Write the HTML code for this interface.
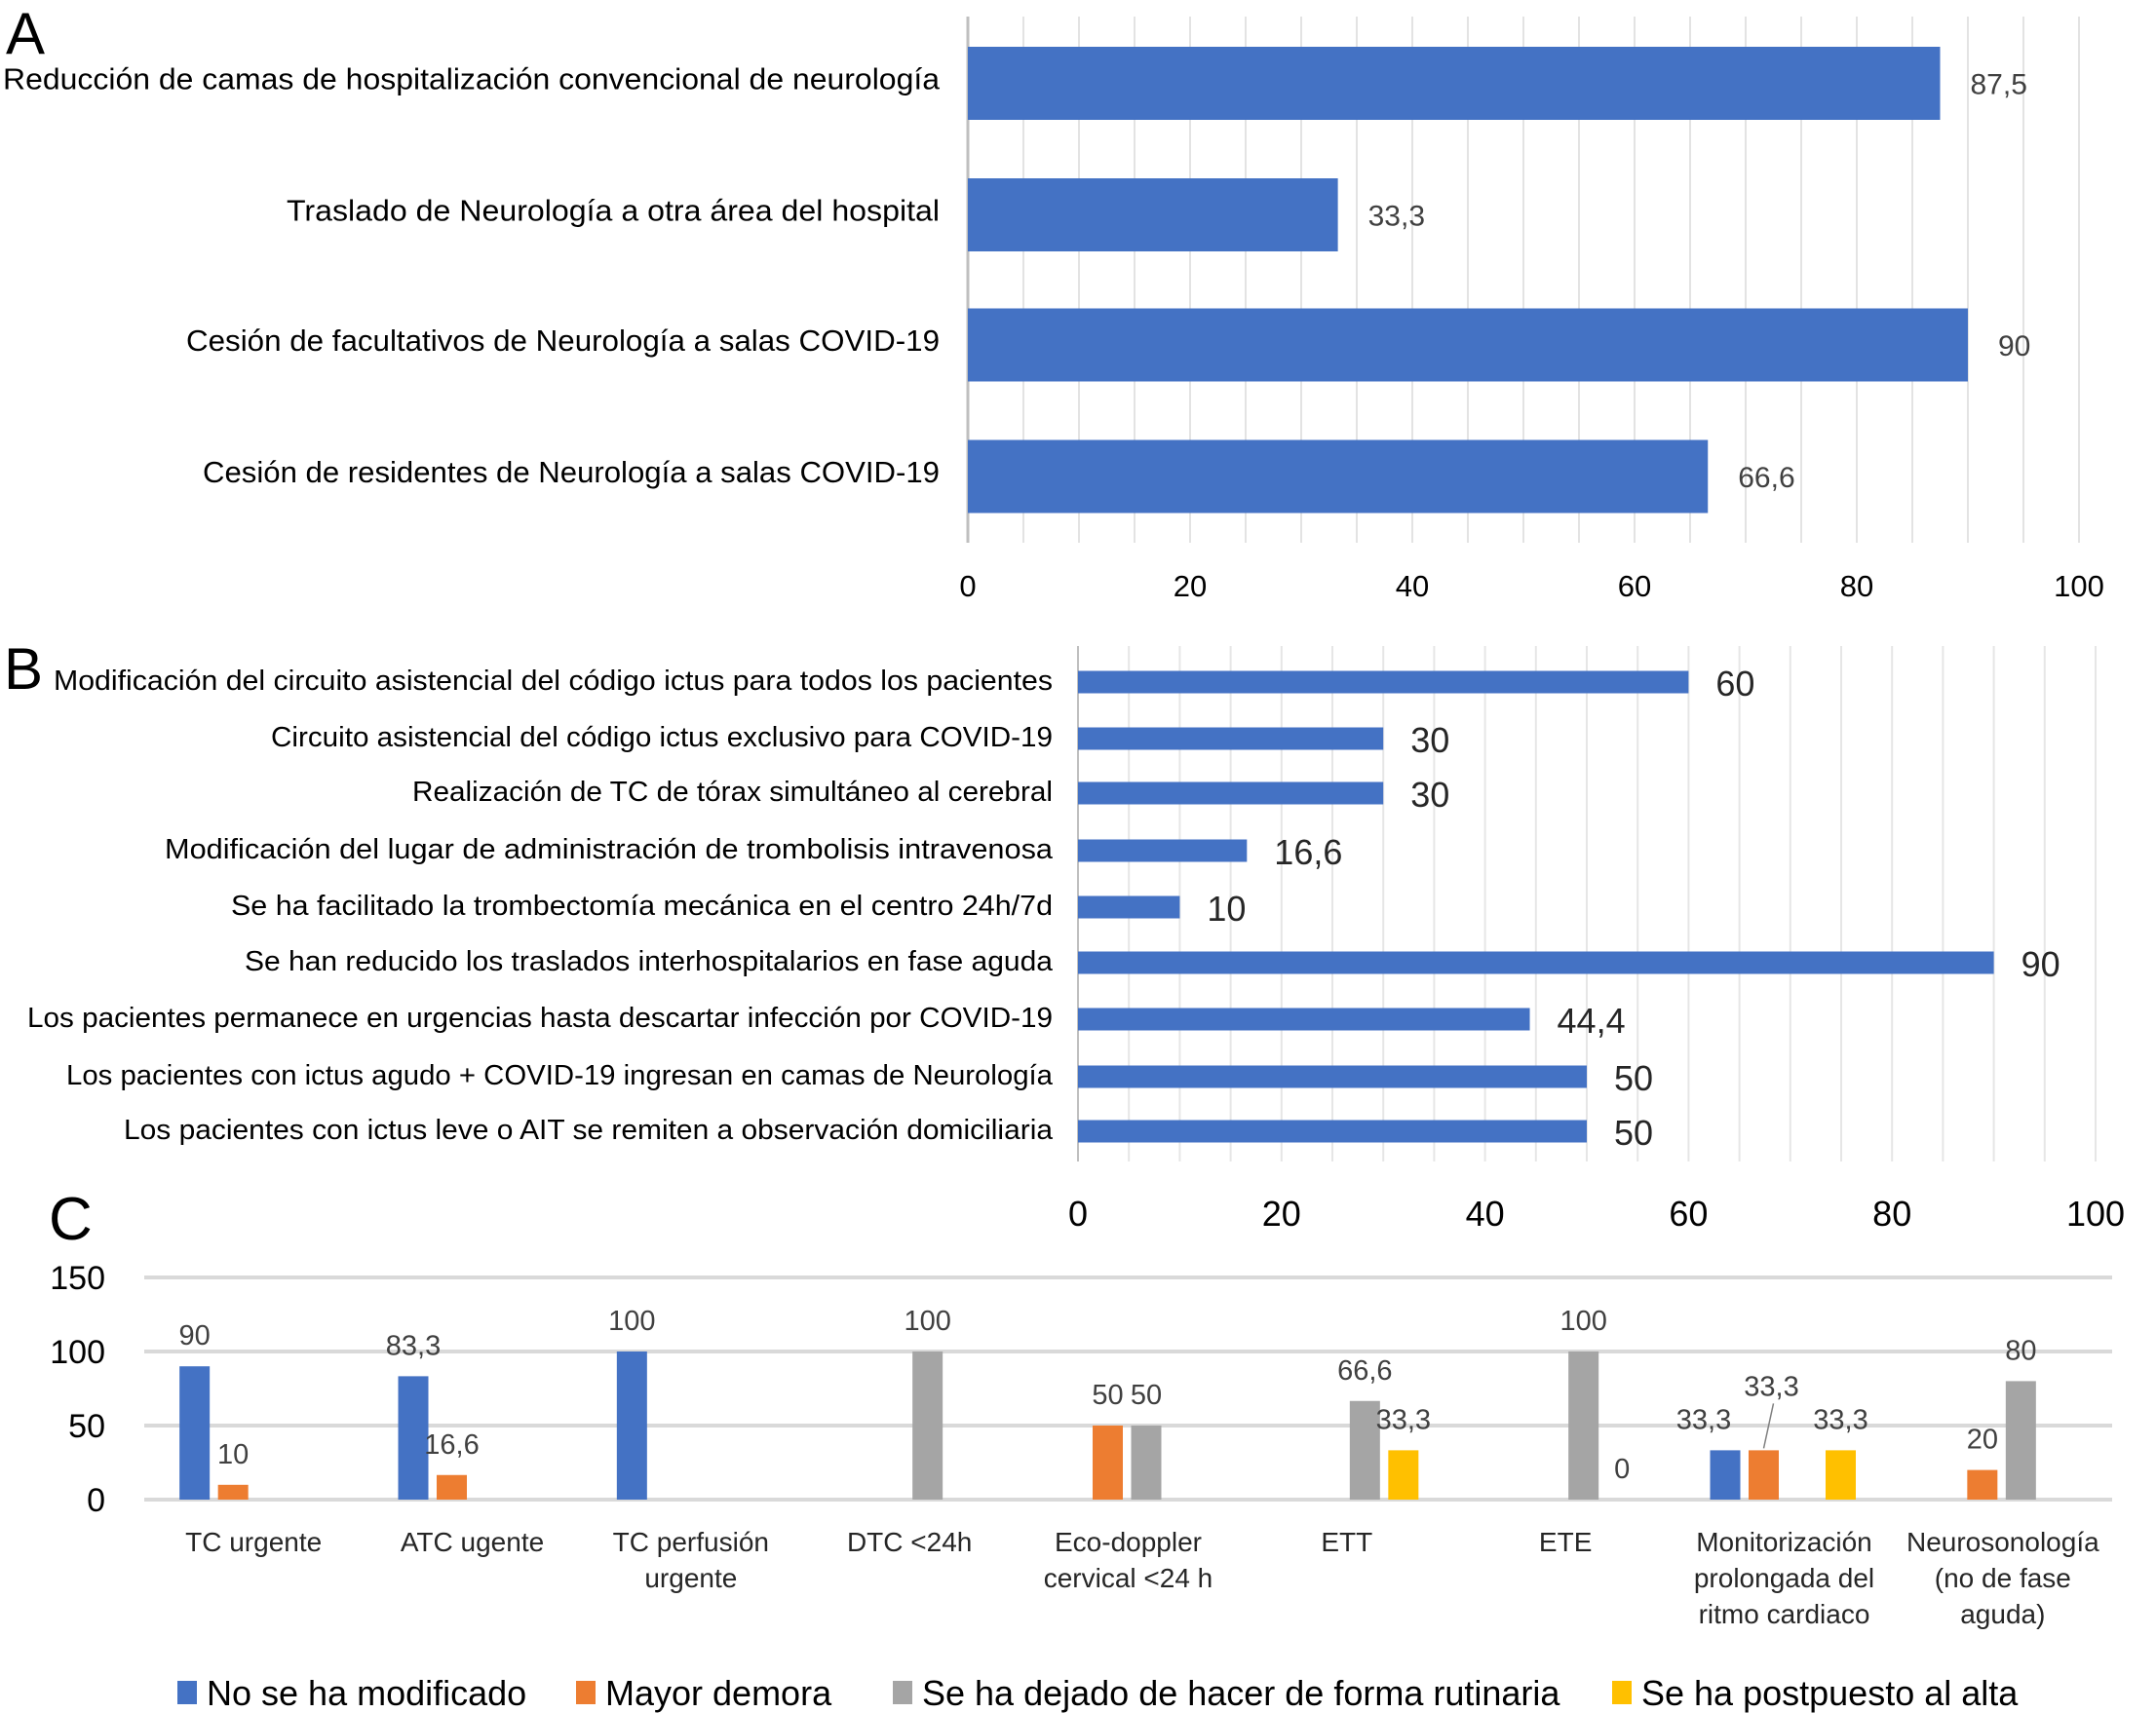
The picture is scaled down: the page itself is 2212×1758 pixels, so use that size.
<!DOCTYPE html>
<html><head><meta charset="utf-8"><style>
html,body{margin:0;padding:0;background:#fff;}
svg{display:block;font-family:"Liberation Sans",sans-serif;}
</style></head><body>
<svg id="fig" width="2212" height="1758" viewBox="0 0 2212 1758" xmlns="http://www.w3.org/2000/svg">
<rect width="2212" height="1758" fill="#fff"/>
<text x="6" y="55" font-size="60" fill="#000">A</text>
<text x="4" y="707" font-size="60" fill="#000">B</text>
<text x="50" y="1272" font-size="62" fill="#000">C</text>
<g id="pa"></g>
<g id="pb"></g>
<g id="pc"></g>
</svg>
<script>
// Panel A data
const aCategories = ["Reducción de camas de hospitalización convencional de neurología","Traslado de Neurología a otra área del hospital","Cesión de facultativos de Neurología a salas COVID-19","Cesión de residentes de Neurología a salas COVID-19"];
const aValues = [87.5, 33.3, 90, 66.6];
const aLabels = ["87,5","33,3","90","66,6"];
const aTicks = [0,20,40,60,80,100];
// Panel B data
const bCategories = ["Modificación del circuito asistencial del código ictus para todos los pacientes","Circuito asistencial del código ictus exclusivo para COVID-19","Realización de TC de tórax simultáneo al cerebral","Modificación del lugar de administración de trombolisis intravenosa","Se ha facilitado la trombectomía mecánica en el centro 24h/7d","Se han reducido los traslados interhospitalarios en fase aguda","Los pacientes permanece en urgencias hasta descartar infección por COVID-19","Los pacientes con ictus agudo + COVID-19 ingresan en camas de Neurología","Los pacientes con ictus leve o AIT se remiten a observación domiciliaria"];
const bValues = [60, 30, 30, 16.6, 10, 90, 44.4, 50, 50];
const bLabels = ["60","30","30","16,6","10","90","44,4","50","50"];
const bTicks = [0,20,40,60,80,100];
// Panel C data
const cCategories = [["TC urgente"],["ATC ugente"],["TC perfusión","urgente"],["DTC <24h"],["Eco-doppler","cervical <24 h"],["ETT"],["ETE"],["Monitorización","prolongada del","ritmo cardiaco"],["Neurosonología","(no de fase","aguda)"]];
const cSeriesNames = ["No se ha modificado","Mayor demora","Se ha dejado de hacer de forma rutinaria","Se ha postpuesto al alta"];
const cNoMod = [90, 83.3, 100, null, null, null, null, 33.3, null];
const cDemora = [10, 16.6, null, null, 50, null, null, 33.3, 20];
const cDejado = [null, null, null, 100, 50, 66.6, 100, null, 80];
const cPost = [null, null, null, null, null, 33.3, 0, 33.3, null];
const cTicks = [0,50,100,150];

const NS="http://www.w3.org/2000/svg";
function mk(parent,tag,attrs,txt){const e=document.createElementNS(NS,tag);for(const k in attrs)e.setAttribute(k,attrs[k]);if(txt!==undefined)e.textContent=txt;parent.appendChild(e);return e;}
const BLUE="#4472C4",OR="#ED7D31",GR="#A5A5A5",YE="#FFC000";

// ---- Panel A ----
const pa=document.getElementById('pa');
const ax=v=>993+v*(2133-993)/100;
const aRowY=[85.5,220.5,354,489], aBarH=75;
for(let v=0;v<=100;v+=5){const l=mk(pa,'line',{x1:ax(v),x2:ax(v),y1:17,y2:557,stroke:v===0?'#bfbfbf':'#e3e3e3','stroke-width':v===0?3:2});

}
aTicks.forEach(t=>{const e=mk(pa,'text',{x:ax(t),y:612,'font-size':31,'text-anchor':'middle',fill:'#000'},String(t));

});
const aLabW=[961,670,773,756];
aCategories.forEach((c,i)=>{const e=mk(pa,'text',{x:964,y:aRowY[i]+6,'font-size':31,'text-anchor':'end',fill:'#000',textLength:aLabW[i],lengthAdjust:'spacingAndGlyphs'},c);


const r=mk(pa,'rect',{x:ax(0),y:aRowY[i]-aBarH/2,width:ax(aValues[i])-ax(0),height:aBarH,fill:BLUE});


const t=mk(pa,'text',{x:ax(aValues[i])+31,y:aRowY[i]+11,'font-size':30,fill:'#404040'},aLabels[i]);

});

// ---- Panel B ----
const pb=document.getElementById('pb');
const bx=v=>1106+v*(2150-1106)/100;
const bRowY=[700,758,814,873,931,988,1046,1105,1161], bBarH=23;
for(let v=0;v<=100;v+=5){const l=mk(pb,'line',{x1:bx(v),x2:bx(v),y1:663,y2:1192,stroke:v===0?'#bfbfbf':'#e6e6e6','stroke-width':2});

}
bTicks.forEach(t=>{const e=mk(pb,'text',{x:bx(t),y:1258,'font-size':36,'text-anchor':'middle',fill:'#000'},String(t));

});
const bStart=[55,278,423,169,237,251,28,68,127];
bCategories.forEach((c,i)=>{const e=mk(pb,'text',{x:1080,y:bRowY[i]+8,'font-size':29,'text-anchor':'end',fill:'#000',textLength:1080-bStart[i],lengthAdjust:'spacingAndGlyphs'},c);


const r=mk(pb,'rect',{x:bx(0),y:bRowY[i]-bBarH/2,width:bx(bValues[i])-bx(0),height:bBarH,fill:BLUE});


const t=mk(pb,'text',{x:bx(bValues[i])+28,y:bRowY[i]+14,'font-size':36,fill:'#262626'},bLabels[i]);

});

// ---- Panel C ----
const pc=document.getElementById('pc');
const cy=v=>1539-v*(1539-1311)/150;
const gx0=148, gW=(2167-148)/9, offs=[-60.5,-21,18.5,58], bw=31;
cTicks.forEach(t=>{const l=mk(pc,'line',{x1:148,x2:2167,y1:cy(t),y2:cy(t),stroke:'#d9d9d9','stroke-width':4});


const e=mk(pc,'text',{x:108,y:cy(t)+12,'font-size':34,'text-anchor':'end',fill:'#000'},String(t));

});
const series=[cNoMod,cDemora,cDejado,cPost], cols=[BLUE,OR,GR,YE];
cCategories.forEach((lines,i)=>{const cx=gx0+gW*(i+0.5);
lines.forEach((ln,j)=>{const e=mk(pc,'text',{x:cx,y:1592+j*37,'font-size':28,'text-anchor':'middle',fill:'#262626'},ln);

});
const crowded = series[0][i]!==null && series[1][i]!==null && Math.abs(series[0][i]-series[1][i])<1;
series.forEach((s,k)=>{const v=s[i]; if(v===null) return;
const x=cx+offs[k]-bw/2;
if(v>0){const r=mk(pc,'rect',{x:x,y:cy(v),width:bw,height:cy(0)-cy(v),fill:cols[k]});

}
const lab=String(v).replace('.',',');
let lx=x+bw/2, ly=cy(v)-22;
if(crowded && k===0) lx-=22;
if(crowded && k===1){ly-=34;lx+=8;
const ll=mk(pc,'line',{x1:x+bw/2+10,y1:ly+8,x2:x+bw/2,y2:cy(v)-2,stroke:'#7f7f7f','stroke-width':1.5});

}
const t=mk(pc,'text',{x:lx,y:ly,'font-size':29,'text-anchor':'middle',fill:'#404040'},lab);

});});
// legend
const legX=[182,591,916,1654];
cSeriesNames.forEach((n,k)=>{const r=mk(pc,'rect',{x:legX[k],y:1725,width:20,height:24,fill:cols[k]});


const t=mk(pc,'text',{x:legX[k]+30,y:1750,'font-size':36,fill:'#000'},n);

});
</script>
</body></html>
